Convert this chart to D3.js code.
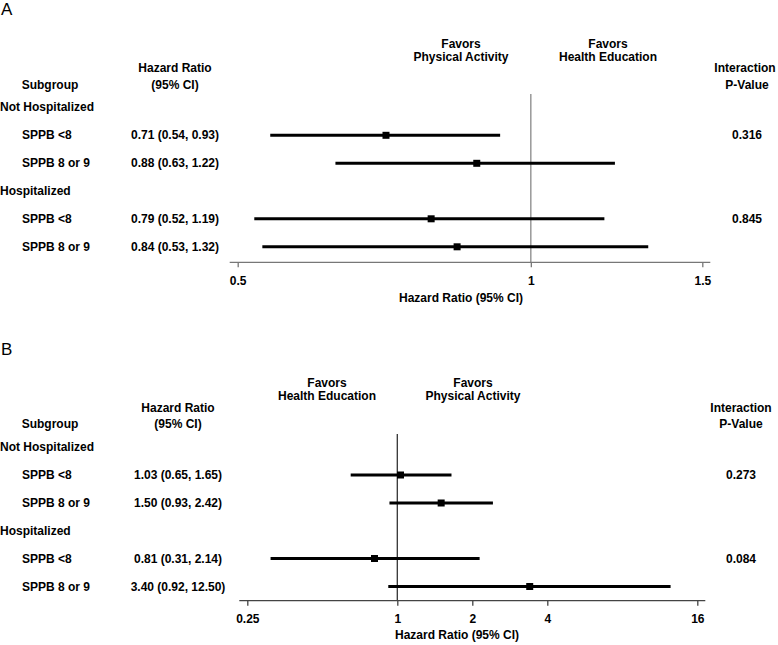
<!DOCTYPE html>
<html><head><meta charset="utf-8">
<script src="https://cdn.jsdelivr.net/npm/d3@7"></script>
<style>
body{margin:0;background:#fff;}
svg text{font-family:"Liberation Sans",Arial,sans-serif;font-weight:bold;fill:#000;}
</style></head>
<body><svg id="c" width="778" height="645"></svg>
<script>
// ---- Data ----
const groupsA = ["Not Hospitalized", "Hospitalized"];
const subgroupsA = ["SPPB <8", "SPPB 8 or 9", "SPPB <8", "SPPB 8 or 9"];
const hrA = [0.71, 0.88, 0.79, 0.84];
const lowA = [0.54, 0.63, 0.52, 0.53];
const highA = [0.93, 1.22, 1.19, 1.32];
const hrLabelsA = ["0.71 (0.54, 0.93)", "0.88 (0.63, 1.22)", "0.79 (0.52, 1.19)", "0.84 (0.53, 1.32)"];
const pValuesA = ["0.316", "0.845"];
const ticksA = [0.5, 1, 1.5];
const tickLabelsA = ["0.5", "1", "1.5"];
const favorsA = ["Physical Activity", "Health Education"];

const groupsB = ["Not Hospitalized", "Hospitalized"];
const subgroupsB = ["SPPB <8", "SPPB 8 or 9", "SPPB <8", "SPPB 8 or 9"];
const hrB = [1.03, 1.50, 0.81, 3.40];
const lowB = [0.65, 0.93, 0.31, 0.92];
const highB = [1.65, 2.42, 2.14, 12.50];
const hrLabelsB = ["1.03 (0.65, 1.65)", "1.50 (0.93, 2.42)", "0.81 (0.31, 2.14)", "3.40 (0.92, 12.50)"];
const pValuesB = ["0.273", "0.084"];
const ticksB = [0.25, 1, 2, 4, 16];
const tickLabelsB = ["0.25", "1", "2", "4", "16"];
const favorsB = ["Health Education", "Physical Activity"];

const svg = d3.select("#c");

function panel(cfg) {
  const g = svg.append("g");
  const x = cfg.scale;
  const rowH = 28;
  const rowY = [cfg.firstRow, cfg.firstRow + rowH, cfg.firstRow + 3 * rowH - 0.5, cfg.firstRow + 4 * rowH - 0.5];
  const groupY = [cfg.firstRow - rowH, cfg.firstRow + 2 * rowH];

  g.append("text").attr("x", 1).attr("y", cfg.letterY).style("font-size", "17px").style("font-weight", "normal").text(cfg.letter);

  g.append("text").attr("x", 50).attr("y", cfg.hdr2).attr("text-anchor", "middle").style("font-size", "12px").text("Subgroup");
  g.append("text").attr("x", cfg.hrX).attr("y", cfg.hdr1).attr("text-anchor", "middle").style("font-size", "12px").text("Hazard Ratio");
  g.append("text").attr("x", cfg.hrX).attr("y", cfg.hdr2).attr("text-anchor", "middle").style("font-size", "12px").text("(95% CI)");
  g.append("text").attr("x", cfg.pX).attr("y", cfg.hdr1).attr("text-anchor", "middle").style("font-size", "12px").text("Interaction");
  g.append("text").attr("x", cfg.pX + cfg.pShift).attr("y", cfg.hdr2).attr("text-anchor", "middle").style("font-size", "12px").text("P-Value");

  cfg.favors.forEach((f, i) => {
    const cx = cfg.favorX[i];
    g.append("text").attr("x", cx).attr("y", cfg.favY).attr("text-anchor", "middle").style("font-size", "12px").text("Favors");
    g.append("text").attr("x", cx).attr("y", cfg.favY + 13.5).attr("text-anchor", "middle").style("font-size", "12px").text(f);
  });

  cfg.groups.forEach((gr, i) => {
    g.append("text").attr("x", 0).attr("y", groupY[i] + 4).style("font-size", "12px").text(gr);
  });
  cfg.subgroups.forEach((s, i) => {
    g.append("text").attr("x", 22).attr("y", rowY[i] + 4).style("font-size", "12px").text(s);
    g.append("text").attr("x", cfg.hrX).attr("y", rowY[i] + 4).attr("text-anchor", "middle").style("font-size", "12px").text(cfg.hrLabels[i]);
  });
  cfg.pValues.forEach((p, i) => {
    g.append("text").attr("x", cfg.pX + cfg.pShift).attr("y", rowY[i * 2] + 4).attr("text-anchor", "middle").style("font-size", "12px").text(p);
  });

  g.append("line").attr("x1", x(1)).attr("x2", x(1)).attr("y1", cfg.refTop).attr("y2", cfg.axisY)
    .attr("stroke", cfg.refColor).attr("stroke-width", 1.3);

  cfg.hr.forEach((v, i) => {
    g.append("line").attr("x1", x(cfg.low[i])).attr("x2", x(cfg.high[i]))
      .attr("y1", rowY[i]).attr("y2", rowY[i]).attr("stroke", "#000").attr("stroke-width", 3);
    g.append("rect").attr("x", x(v) - 3.5).attr("y", rowY[i] - 3.5).attr("width", 7).attr("height", 7).attr("fill", "#000");
  });

  const ax = d3.axisBottom(x).tickValues(cfg.ticks).tickSize(5).tickPadding(9)
    .tickFormat((d, i) => cfg.tickLabels[i]);
  const ag = g.append("g").attr("transform", `translate(0,${cfg.axisY})`).call(ax);
  ag.select(".domain").remove();
  const r = x.range();
  ag.append("line").attr("x1", r[0] - 8).attr("x2", r[1] + 8).attr("y1", 0).attr("y2", 0)
    .attr("stroke", cfg.axisColor).attr("stroke-width", 1.3);
  ag.selectAll(".tick line").attr("stroke", cfg.axisColor).attr("stroke-width", 1.3);
  ag.selectAll(".tick text").style("font-size", "12px").style("font-family", '"Liberation Sans",Arial,sans-serif').style("font-weight", "bold").attr("fill", "#000");

  g.append("text").attr("x", cfg.axLabelX).attr("y", cfg.axisY + cfg.axLabelDy).attr("text-anchor", "middle").style("font-size", "12px").text("Hazard Ratio (95% CI)");
}

panel({
  letter: "A", letterY: 15,
  scale: d3.scaleLog().domain([0.5, 1.5]).range([237.7, 702.3]),
  firstRow: 135.3, hdr1: 72, hdr2: 89, hrX: 175, pX: 745, pShift: 2,
  favors: favorsA, favorX: [461, 608], favY: 47.5,
  groups: groupsA, subgroups: subgroupsA, hrLabels: hrLabelsA, pValues: pValuesA,
  hr: hrA, low: lowA, high: highA,
  ticks: ticksA, tickLabels: tickLabelsA,
  refTop: 94, axisY: 262.3, refColor: "#888", axisColor: "#777", axLabelX: 461, axLabelDy: 40
});

panel({
  letter: "B", letterY: 355,
  scale: d3.scaleLog().base(2).domain([0.25, 16]).range([247.3, 697.3]),
  firstRow: 475, hdr1: 412, hdr2: 428, hrX: 178, pX: 741, pShift: 0,
  favors: favorsB, favorX: [327, 473], favY: 386.5,
  groups: groupsB, subgroups: subgroupsB, hrLabels: hrLabelsB, pValues: pValuesB,
  hr: hrB, low: lowB, high: highB,
  ticks: ticksB, tickLabels: tickLabelsB,
  refTop: 434, axisY: 600.7, refColor: "#333", axisColor: "#444", axLabelX: 457, axLabelDy: 38
});
</script></body></html>
